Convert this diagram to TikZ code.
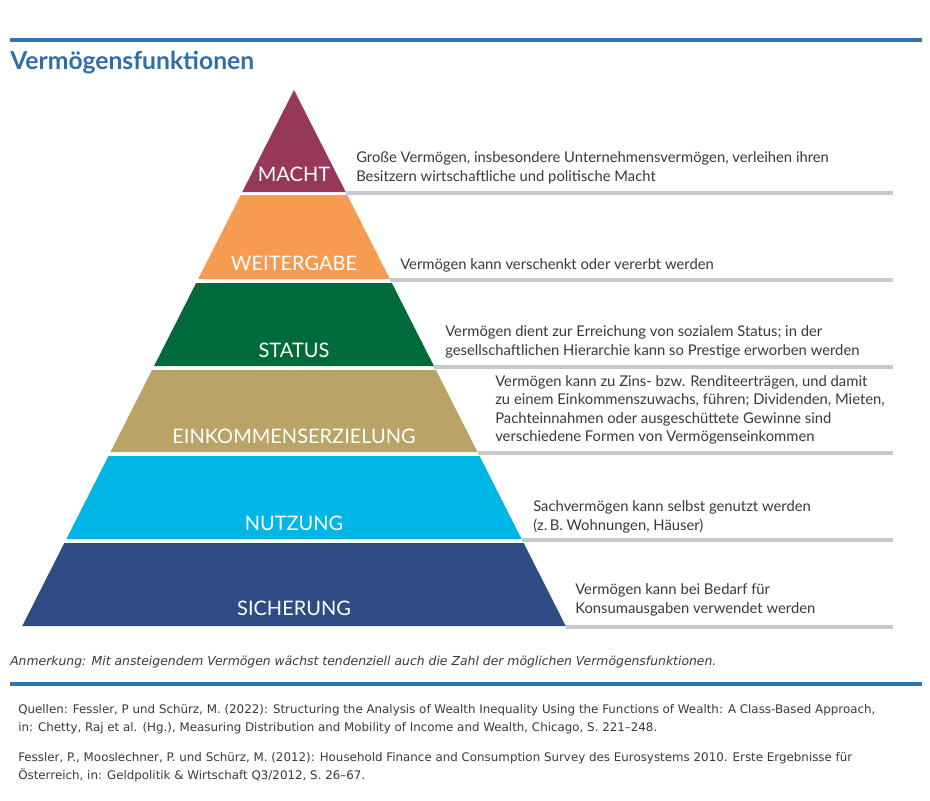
\documentclass[tikz,border=0pt]{standalone}
\usepackage{fontspec}
\setmainfont{Lato}
\newfontfamily\verd{DejaVu Sans}
\definecolor{bl}{HTML}{2E75B6}
\definecolor{ttl}{HTML}{2F6EA8}
\definecolor{cMa}{HTML}{963859}
\definecolor{cWe}{HTML}{F69B4F}
\definecolor{cSt}{HTML}{006A3C}
\definecolor{cEi}{HTML}{B9A366}
\definecolor{cNu}{HTML}{00B6E6}
\definecolor{cSi}{HTML}{2F4B86}
\definecolor{gl}{HTML}{C9C9C9}
\definecolor{tx}{HTML}{3A3A3A}
\begin{document}
\begin{tikzpicture}[x=0.75pt,y=-0.75pt,
 lab/.style={text=white,font=\fontsize{15}{15}\selectfont},
 desc/.style={anchor=west,align=left,text=tx,font=\fontsize{11.1}{13.8}\selectfont,inner sep=0pt},
 foot/.style={anchor=north west,align=left,text=tx,font=\verd\fontsize{8.9}{13.5}\selectfont,inner sep=0pt}]
\useasboundingbox (0,0) rectangle (930,800);
\fill[white] (0,0) rectangle (930,800);
\draw[bl,line width=3pt] (10,40) -- (922,40);
\node[anchor=west,inner sep=0pt,text=ttl,font=\bfseries\fontsize{18.5}{19}\selectfont] (title) at (10,63) {Vermögensfunktionen};
\def\band#1#2#3#4{%
 \pgfmathsetmacro\lt{294-0.507*(#2-90)}\pgfmathsetmacro\rt{294+0.507*(#2-90)}%
 \pgfmathsetmacro\lb{294-0.507*(#3-90)}\pgfmathsetmacro\rb{294+0.507*(#3-90)}%
 \fill[#1] (\lt,#2) -- (\rt,#2) -- (\rb,#3) -- (\lb,#3) -- cycle;
 \draw[gl,line width=2.3pt] (\rb,#3+1) -- (893,#3+1);}
\band{cMa}{90}{192}{}
\band{cWe}{195}{279}{}
\band{cSt}{283}{366}{}
\band{cEi}{370}{452}{}
\band{cNu}{456}{539}{}
\band{cSi}{543}{626}{}
\node[lab] (ma) at (294,174) {MACHT};
\node[lab] (we) at (294,263) {WEITERGABE};
\node[lab] (st) at (294,350) {STATUS};
\node[lab] (ei) at (294,436) {EINKOMMENSERZIELUNG};
\node[lab] (nu) at (294,523) {NUTZUNG};
\node[lab] (si) at (294,608) {SICHERUNG};
\node[desc] (dma) at (356,168) {Große Vermögen, insbesondere Unternehmensvermögen, verleihen ihren\\Besitzern wirtschaftliche und politische Macht};
\node[desc] (dwe) at (400,265) {Vermögen kann verschenkt oder vererbt werden};
\node[desc] (dst) at (445,342) {Vermögen dient zur Erreichung von sozialem Status; in der\\gesellschaftlichen Hierarchie kann so Prestige erworben werden};
\node[desc] (dei) at (495,410) {Vermögen kann zu Zins- bzw. Renditeerträgen, und damit\\zu einem Einkommenszuwachs, führen; Dividenden, Mieten,\\Pachteinnahmen oder ausgeschüttete Gewinne sind\\verschiedene Formen von Vermögenseinkommen};
\node[desc] (dnu) at (533,517) {Sachvermögen kann selbst genutzt werden\\(z.\,B. Wohnungen, Häuser)};
\node[desc] (dsi) at (575,600) {Vermögen kann bei Bedarf für\\Konsumausgaben verwendet werden};
\node[anchor=west,inner sep=0pt,text=tx,font=\verd\itshape\fontsize{9.3}{10}\selectfont] (anm) at (10,662) {Anmerkung: Mit ansteigendem Vermögen wächst tendenziell auch die Zahl der möglichen Vermögensfunktionen.};
\draw[bl,line width=3pt] (10,684) -- (922,684);
\node[foot] (q1) at (18,704) {Quellen: Fessler, P und Schürz, M. (2022): Structuring the Analysis of Wealth Inequality Using the Functions of Wealth: A Class-Based Approach,\\in: Chetty, Raj et al. (Hg.), Measuring Distribution and Mobility of Income and Wealth, Chicago, S. 221–248.};
\node[foot] (q2) at (18,752) {Fessler, P., Mooslechner, P. und Schürz, M. (2012): Household Finance and Consumption Survey des Eurosystems 2010. Erste Ergebnisse für\\Österreich, in: Geldpolitik \& Wirtschaft Q3/2012, S. 26–67.};
\end{tikzpicture}
\end{document}
